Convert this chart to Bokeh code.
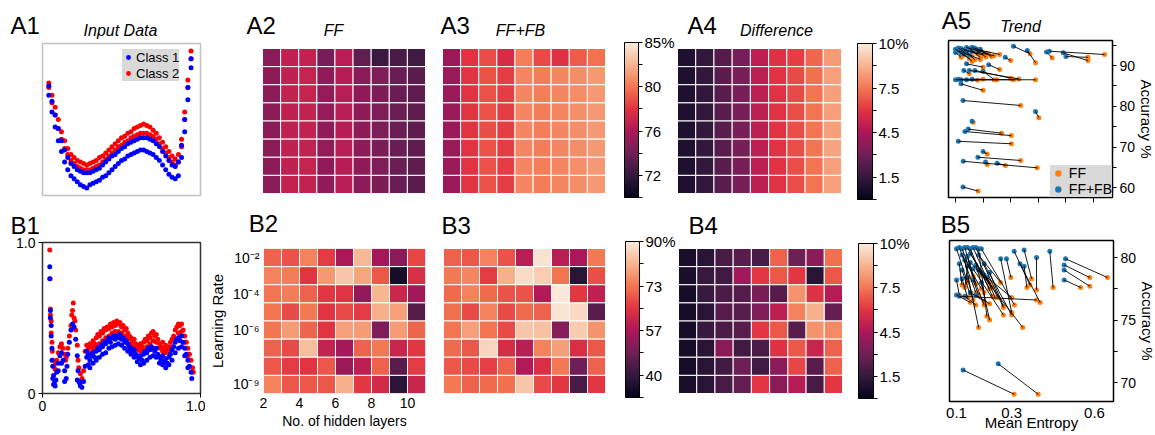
import numpy as np
from bokeh.plotting import figure
from bokeh.layouts import row, column
from bokeh.models import (ColumnDataSource, LinearColorMapper, ColorBar, FixedTicker, LinearAxis,
                          Range1d, Legend, LegendItem, Label, BoxAnnotation)
from bokeh.transform import dodge
from bokeh.embed import file_html
from bokeh.resources import INLINE

FONT = "Liberation Sans"

# ---------------- data ----------------
hidden_layers = [2, 3, 4, 5, 6, 7, 8, 9, 10]
lr_exponents = [-2, -3, -4, -5, -6, -7, -8, -9]
lr_tick_exponents = [-2, -4, -6, -9]
lr_tick_labels = ["10\u207b\u00b2", "10\u207b\u2074", "10\u207b\u2076", "10\u207b\u2079"]

ff_a = [
    [75.1, 77.2, 77.3, 74.5, 76.9, 73.7, 72.4, 72.9, 72.6],
    [75.3, 77.2, 77.4, 75.4, 76.8, 75.2, 74.8, 74.0, 73.5],
    [75.3, 77.3, 77.4, 75.5, 76.9, 75.3, 74.7, 74.0, 73.6],
    [75.3, 77.2, 77.3, 75.5, 76.9, 75.3, 74.8, 74.1, 73.6],
    [75.2, 77.2, 77.3, 75.4, 76.8, 75.3, 74.8, 74.1, 73.6],
    [75.3, 77.2, 77.3, 75.5, 76.9, 75.3, 74.7, 74.0, 73.6],
    [75.3, 77.2, 77.4, 75.4, 76.8, 75.3, 74.8, 74.1, 73.6],
    [75.2, 77.3, 77.3, 75.4, 76.9, 75.2, 74.7, 74.0, 73.5],
]
fffb_a = [
    [75.8, 78.5, 79.4, 78.1, 81.0, 79.3, 78.4, 79.9, 80.6],
    [75.8, 78.6, 79.5, 78.9, 81.2, 80.9, 81.3, 81.5, 81.9],
    [75.8, 78.6, 79.5, 78.9, 81.2, 81.0, 81.3, 81.5, 81.9],
    [75.8, 78.6, 79.5, 78.9, 81.2, 80.9, 81.3, 81.6, 81.9],
    [75.8, 78.6, 79.4, 78.9, 81.2, 81.0, 81.3, 81.5, 81.9],
    [75.8, 78.6, 79.5, 78.9, 81.2, 80.9, 81.3, 81.5, 81.9],
    [75.8, 78.6, 79.5, 78.9, 81.2, 81.0, 81.3, 81.6, 81.9],
    [75.8, 78.6, 79.5, 78.9, 81.2, 80.9, 81.3, 81.5, 81.9],
]
diff_a = [
    [0.8, 1.4, 2.2, 3.0, 4.7, 5.6, 5.9, 6.8, 8.0],
    [0.8, 1.4, 2.3, 3.1, 4.7, 5.7, 6.2, 7.0, 8.1],
    [0.8, 1.4, 2.3, 3.1, 4.7, 5.7, 6.2, 7.1, 8.1],
    [0.8, 1.4, 2.3, 3.1, 4.7, 5.7, 6.3, 7.1, 8.1],
    [0.8, 1.4, 2.3, 3.1, 4.7, 5.7, 6.3, 7.1, 8.1],
    [0.8, 1.4, 2.3, 3.1, 4.7, 5.7, 6.3, 7.1, 8.2],
    [0.8, 1.4, 2.3, 3.1, 4.7, 5.7, 6.3, 7.1, 8.1],
    [0.8, 1.4, 2.3, 3.1, 4.7, 5.7, 6.3, 7.1, 8.1],
]
ff_b = [
    [70.9, 69.1, 74.9, 66.2, 56.4, 82.5, 55.8, 52.3, 67.4],
    [74.9, 74.3, 65.1, 77.8, 84.2, 79.6, 69.7, 35.5, 63.9],
    [73.2, 74.3, 70.9, 65.6, 65.1, 53.5, 81.9, 61.6, 55.2],
    [73.2, 68.0, 73.8, 65.1, 68.0, 66.2, 81.3, 79.0, 44.8],
    [73.2, 78.4, 71.4, 65.1, 79.0, 78.4, 50.6, 78.4, 71.4],
    [70.9, 68.0, 83.0, 60.4, 55.8, 70.9, 73.8, 61.0, 65.6],
    [69.7, 66.2, 65.1, 69.7, 54.6, 59.3, 70.9, 45.3, 66.2],
    [74.9, 69.7, 69.7, 69.7, 81.3, 65.6, 62.7, 39.0, 61.0],
]
fffb_b = [
    [70.9, 69.7, 74.9, 69.1, 58.7, 88.8, 58.7, 56.4, 73.8],
    [73.8, 75.5, 66.2, 81.3, 87.7, 85.4, 73.2, 38.4, 68.5],
    [72.0, 74.9, 72.0, 69.1, 69.1, 57.5, 89.4, 65.6, 59.8],
    [72.6, 68.0, 74.9, 68.0, 72.0, 70.9, 88.8, 87.1, 45.3],
    [73.2, 79.0, 73.2, 68.0, 84.2, 83.6, 51.7, 84.8, 77.2],
    [72.0, 69.7, 86.5, 63.3, 58.7, 74.9, 79.0, 63.9, 69.7],
    [69.7, 68.0, 66.8, 70.9, 57.5, 63.9, 73.8, 48.2, 70.9],
    [73.8, 70.9, 72.0, 72.6, 84.2, 68.0, 65.6, 43.0, 65.6],
]
diff_b = [
    [0.7, 1.1, 1.9, 2.3, 1.9, 6.7, 2.8, 3.5, 7.0],
    [0.7, 1.5, 1.7, 4.0, 5.8, 6.5, 5.8, 1.1, 6.5],
    [0.6, 1.5, 2.0, 2.2, 3.1, 2.2, 7.8, 5.6, 4.5],
    [0.6, 1.1, 2.2, 2.3, 3.2, 4.7, 7.4, 8.5, 2.6],
    [0.6, 1.5, 2.0, 2.3, 5.8, 6.5, 2.3, 7.8, 7.6],
    [0.6, 1.1, 3.5, 1.7, 2.0, 5.6, 6.5, 5.0, 6.7],
    [0.6, 1.1, 1.7, 2.8, 1.7, 3.5, 6.1, 2.3, 6.7],
    [0.7, 1.1, 1.9, 2.6, 5.8, 3.5, 4.5, 1.9, 5.8],
]

acc_a_ticks = [72.14, 76.43, 80.71, 85.0]
acc_a_minor = [70.0, 74.29, 78.57, 82.86]
acc_a_labels = ["72", "76", "80", "85%"]
acc_b_ticks = [40.29, 56.86, 73.43, 90.0]
acc_b_minor = [32.0, 48.57, 65.14, 81.71]
acc_b_labels = ["40", "57", "73", "90%"]
diff_ticks = [1.43, 4.29, 7.14, 10.0]
diff_minor = [0.0, 2.86, 5.71, 8.57]
diff_labels = ["1.5", "4.5", "7.5", "10%"]

a1_x = [0.04, 0.06, 0.08, 0.10, 0.12, 0.14, 0.16, 0.18, 0.20, 0.22, 0.24, 0.26, 0.28, 0.30, 0.32,
        0.34, 0.36, 0.38, 0.40, 0.42, 0.44, 0.46, 0.48, 0.50, 0.52, 0.54, 0.56, 0.58, 0.60, 0.62,
        0.64, 0.66, 0.68, 0.70, 0.72, 0.74, 0.76, 0.78, 0.80, 0.82, 0.84, 0.86, 0.88, 0.90, 0.92, 0.94]
a1_blue_lo = [0.66, 0.55, 0.45, 0.36, 0.29, 0.22, 0.17, 0.13, 0.11, 0.09, 0.07, 0.06, 0.05, 0.07, 0.08,
              0.09, 0.10, 0.12, 0.13, 0.15, 0.17, 0.19, 0.21, 0.23, 0.24, 0.26, 0.27, 0.28, 0.29, 0.30,
              0.30, 0.29, 0.28, 0.27, 0.25, 0.23, 0.20, 0.17, 0.14, 0.12, 0.11, 0.13, 0.25, 0.42, 0.63, 0.84]
a1_blue_hi = [0.72, 0.62, 0.53, 0.44, 0.36, 0.30, 0.25, 0.21, 0.19, 0.17, 0.16, 0.15, 0.15, 0.15, 0.16,
              0.17, 0.18, 0.20, 0.22, 0.24, 0.26, 0.27, 0.29, 0.31, 0.32, 0.34, 0.35, 0.36, 0.37, 0.38,
              0.38, 0.38, 0.37, 0.36, 0.34, 0.32, 0.29, 0.26, 0.23, 0.20, 0.19, 0.22, 0.33, 0.50, 0.71, 0.90]
a1_red_lo = [0.71, 0.61, 0.53, 0.44, 0.37, 0.31, 0.27, 0.23, 0.21, 0.19, 0.18, 0.17, 0.17, 0.17, 0.18,
             0.19, 0.20, 0.22, 0.24, 0.26, 0.28, 0.30, 0.32, 0.33, 0.35, 0.36, 0.38, 0.39, 0.40, 0.41,
             0.41, 0.41, 0.40, 0.39, 0.37, 0.34, 0.31, 0.28, 0.25, 0.22, 0.20, 0.22, 0.32, 0.50, 0.71, 0.90]
a1_red_hi = [0.74, 0.66, 0.58, 0.50, 0.42, 0.36, 0.31, 0.27, 0.25, 0.23, 0.22, 0.21, 0.20, 0.21, 0.22,
             0.23, 0.25, 0.26, 0.28, 0.30, 0.32, 0.34, 0.36, 0.38, 0.39, 0.41, 0.42, 0.44, 0.45, 0.46,
             0.47, 0.46, 0.45, 0.43, 0.41, 0.38, 0.35, 0.32, 0.29, 0.26, 0.24, 0.27, 0.37, 0.55, 0.76, 0.95]

b1_blue = [(0.046, 0.84), (0.046, 0.76), (0.05, 0.55), (0.05, 0.50), (0.055, 0.45), (0.055, 0.38), (0.06, 0.30),
           (0.06, 0.22), (0.065, 0.18), (0.07, 0.12), (0.075, 0.07), (0.08, 0.05), (0.085, 0.09), (0.09, 0.14),
           (0.10, 0.20), (0.11, 0.25), (0.12, 0.27), (0.13, 0.22), (0.14, 0.15), (0.15, 0.10), (0.155, 0.18),
           (0.16, 0.26), (0.17, 0.34), (0.18, 0.42), (0.19, 0.46), (0.20, 0.44), (0.21, 0.36), (0.22, 0.25),
           (0.225, 0.15), (0.23, 0.08), (0.24, 0.05), (0.25, 0.04), (0.26, 0.08), (0.27, 0.18), (0.28, 0.24),
           (0.29, 0.26), (0.30, 0.22), (0.31, 0.25), (0.32, 0.27), (0.33, 0.24), (0.34, 0.28), (0.35, 0.30),
           (0.36, 0.29), (0.37, 0.32), (0.38, 0.31), (0.39, 0.34), (0.40, 0.33), (0.41, 0.35), (0.42, 0.37),
           (0.43, 0.34), (0.44, 0.37), (0.45, 0.38), (0.46, 0.36), (0.47, 0.38), (0.48, 0.37), (0.49, 0.39),
           (0.50, 0.36), (0.51, 0.37), (0.52, 0.34), (0.53, 0.35), (0.54, 0.33), (0.55, 0.31), (0.56, 0.30),
           (0.57, 0.28), (0.58, 0.29), (0.59, 0.26), (0.60, 0.25), (0.61, 0.23), (0.62, 0.25), (0.63, 0.22),
           (0.64, 0.26), (0.65, 0.28), (0.66, 0.27), (0.67, 0.30), (0.68, 0.29), (0.69, 0.31), (0.70, 0.30),
           (0.71, 0.28), (0.72, 0.30), (0.73, 0.26), (0.74, 0.24), (0.75, 0.22), (0.76, 0.25), (0.77, 0.21),
           (0.78, 0.23), (0.79, 0.20), (0.80, 0.24), (0.81, 0.26), (0.82, 0.29), (0.83, 0.31), (0.84, 0.34),
           (0.85, 0.36), (0.86, 0.37), (0.87, 0.35), (0.88, 0.38), (0.89, 0.34), (0.90, 0.30), (0.91, 0.26),
           (0.92, 0.22), (0.93, 0.18), (0.94, 0.14), (0.945, 0.10),
           (0.30, 0.17), (0.32, 0.20), (0.34, 0.22), (0.36, 0.24), (0.38, 0.26), (0.40, 0.27), (0.42, 0.30),
           (0.44, 0.31), (0.46, 0.32), (0.48, 0.33), (0.50, 0.32), (0.52, 0.30), (0.54, 0.28), (0.56, 0.26),
           (0.58, 0.24), (0.60, 0.21), (0.62, 0.19), (0.64, 0.20), (0.66, 0.22), (0.68, 0.24), (0.70, 0.25),
           (0.72, 0.24), (0.74, 0.20), (0.76, 0.19), (0.78, 0.17), (0.80, 0.19), (0.82, 0.22), (0.84, 0.27),
           (0.86, 0.30), (0.88, 0.31), (0.90, 0.25), (0.92, 0.17), (0.10, 0.15), (0.12, 0.20), (0.14, 0.08),
           (0.065, 0.10), (0.07, 0.06), (0.22, 0.09), (0.235, 0.07), (0.28, 0.28), (0.29, 0.19)]
b1_red = [(0.046, 0.95), (0.048, 0.76), (0.05, 0.56), (0.05, 0.52), (0.055, 0.48), (0.055, 0.40), (0.06, 0.34),
          (0.062, 0.28), (0.065, 0.22), (0.07, 0.18), (0.08, 0.16), (0.085, 0.20), (0.09, 0.22), (0.10, 0.27),
          (0.11, 0.31), (0.12, 0.33), (0.13, 0.30), (0.14, 0.26), (0.145, 0.22), (0.15, 0.24), (0.16, 0.30),
          (0.17, 0.38), (0.18, 0.45), (0.185, 0.52), (0.19, 0.55), (0.195, 0.60), (0.20, 0.50), (0.205, 0.48),
          (0.21, 0.42), (0.22, 0.32), (0.225, 0.22), (0.23, 0.17), (0.24, 0.13), (0.25, 0.10), (0.26, 0.15),
          (0.27, 0.28), (0.28, 0.32), (0.29, 0.30), (0.30, 0.33), (0.31, 0.31), (0.32, 0.35), (0.33, 0.33),
          (0.34, 0.37), (0.35, 0.39), (0.36, 0.38), (0.37, 0.41), (0.38, 0.40), (0.39, 0.43), (0.40, 0.42),
          (0.41, 0.44), (0.42, 0.43), (0.43, 0.46), (0.44, 0.44), (0.45, 0.47), (0.46, 0.45), (0.47, 0.48),
          (0.48, 0.46), (0.49, 0.47), (0.50, 0.44), (0.51, 0.45), (0.52, 0.42), (0.53, 0.43), (0.54, 0.40),
          (0.55, 0.38), (0.56, 0.37), (0.57, 0.35), (0.58, 0.36), (0.59, 0.33), (0.60, 0.32), (0.61, 0.30),
          (0.62, 0.33), (0.63, 0.31), (0.64, 0.34), (0.65, 0.36), (0.66, 0.35), (0.67, 0.38), (0.68, 0.37),
          (0.69, 0.40), (0.70, 0.41), (0.71, 0.38), (0.72, 0.39), (0.73, 0.36), (0.74, 0.33), (0.75, 0.31),
          (0.76, 0.34), (0.77, 0.30), (0.78, 0.32), (0.79, 0.29), (0.80, 0.31), (0.81, 0.34), (0.82, 0.36),
          (0.83, 0.38), (0.84, 0.42), (0.85, 0.44), (0.86, 0.46), (0.87, 0.45), (0.88, 0.46), (0.89, 0.42),
          (0.90, 0.38), (0.91, 0.34), (0.92, 0.30), (0.93, 0.26), (0.94, 0.22), (0.95, 0.17), (0.955, 0.14),
          (0.30, 0.27), (0.32, 0.29), (0.34, 0.31), (0.36, 0.33), (0.38, 0.35), (0.40, 0.37), (0.42, 0.38),
          (0.44, 0.40), (0.46, 0.41), (0.48, 0.41), (0.50, 0.40), (0.52, 0.38), (0.54, 0.36), (0.56, 0.33),
          (0.58, 0.31), (0.60, 0.29), (0.62, 0.28), (0.64, 0.29), (0.66, 0.31), (0.68, 0.33), (0.70, 0.35),
          (0.72, 0.34), (0.74, 0.30), (0.76, 0.28), (0.78, 0.27), (0.80, 0.27), (0.82, 0.31), (0.84, 0.36),
          (0.86, 0.40), (0.88, 0.41), (0.90, 0.34), (0.92, 0.25)]

# trend pairs: (FF+FB entropy, FF+FB acc, FF entropy, FF acc)
a5_pairs = [
    (0.10, 94.0, 0.13, 92.5), (0.11, 93.6, 0.16, 92.3), (0.12, 94.2, 0.18, 92.8), (0.13, 93.8, 0.20, 92.6),
    (0.14, 94.4, 0.22, 92.9), (0.15, 94.1, 0.19, 92.0), (0.16, 93.5, 0.24, 92.4), (0.17, 94.3, 0.21, 93.0),
    (0.18, 93.9, 0.26, 92.7), (0.10, 93.2, 0.12, 92.0), (0.12, 93.0, 0.15, 91.7), (0.14, 93.3, 0.17, 91.4),
    (0.19, 94.0, 0.23, 92.2), (0.11, 94.3, 0.14, 92.9), (0.13, 92.8, 0.16, 91.0), (0.15, 92.6, 0.19, 91.5),
    (0.16, 94.5, 0.21, 92.1), (0.31, 94.7, 0.37, 92.9), (0.36, 93.7, 0.39, 90.7), (0.44, 93.5, 0.64, 92.7),
    (0.49, 93.1, 0.58, 91.2), (0.50, 92.2, 0.58, 92.0), (0.28, 92.0, 0.30, 91.2), (0.43, 93.3, 0.45, 91.9),
    (0.14, 90.4, 0.20, 89.6), (0.22, 90.2, 0.26, 89.0), (0.13, 88.8, 0.15, 88.0), (0.15, 88.8, 0.33, 86.7),
    (0.17, 88.8, 0.30, 86.9), (0.20, 88.6, 0.24, 86.5), (0.10, 86.5, 0.39, 86.5), (0.12, 86.5, 0.18, 86.4),
    (0.14, 86.5, 0.25, 86.5), (0.16, 86.6, 0.31, 86.5), (0.11, 86.6, 0.20, 86.6), (0.12, 85.5, 0.20, 83.9),
    (0.127, 81.4, 0.336, 80.2), (0.39, 78.7, 0.402, 77.2), (0.16, 76.3, 0.164, 76.1), (0.146, 74.4, 0.267, 73.4),
    (0.134, 73.8, 0.302, 72.8), (0.110, 71.4, 0.303, 70.8), (0.200, 68.9, 0.215, 68.3), (0.181, 67.5, 0.336, 66.7),
    (0.128, 66.5, 0.396, 64.9), (0.209, 66.3, 0.215, 65.7), (0.251, 66.0, 0.281, 65.5), (0.127, 60.2, 0.182, 59.2),
]
b5_pairs = [
    (0.10, 80.7, 0.14, 78.0), (0.11, 80.8, 0.17, 77.2), (0.12, 80.7, 0.20, 76.2), (0.13, 80.8, 0.16, 78.5),
    (0.14, 80.8, 0.22, 77.5), (0.15, 80.7, 0.19, 78.6), (0.16, 80.8, 0.24, 76.8), (0.17, 80.8, 0.27, 76.0),
    (0.18, 80.7, 0.21, 75.3), (0.19, 80.7, 0.31, 76.2), (0.11, 79.5, 0.12, 77.8), (0.12, 79.0, 0.15, 77.0),
    (0.13, 79.8, 0.18, 74.4), (0.14, 79.3, 0.13, 77.6), (0.15, 79.6, 0.22, 78.0), (0.16, 79.1, 0.27, 75.4),
    (0.17, 79.4, 0.20, 77.2), (0.18, 79.0, 0.34, 74.4), (0.19, 78.8, 0.23, 76.9), (0.20, 78.6, 0.30, 76.8),
    (0.10, 78.2, 0.11, 77.0), (0.12, 78.3, 0.14, 76.8), (0.14, 78.4, 0.16, 76.6), (0.16, 78.2, 0.18, 77.0),
    (0.11, 76.9, 0.39, 76.6), (0.10, 77.0, 0.15, 76.4), (0.13, 76.9, 0.17, 76.2), (0.19, 78.0, 0.22, 75.0),
    (0.15, 77.2, 0.20, 76.5), (0.17, 77.0, 0.22, 76.3), (0.21, 78.4, 0.25, 76.8), (0.18, 80.2, 0.26, 78.0),
    (0.15, 80.3, 0.23, 77.6), (0.12, 80.2, 0.19, 77.5), (0.20, 79.5, 0.30, 75.4), (0.14, 80.1, 0.17, 77.9),
    (0.281, 79.9, 0.297, 78.4), (0.309, 80.5, 0.366, 77.8), (0.345, 80.6, 0.372, 78.3), (0.345, 79.3, 0.355, 77.6),
    (0.39, 80.0, 0.39, 77.4), (0.438, 80.5, 0.45, 77.6), (0.495, 79.9, 0.647, 78.4), (0.49, 79.4, 0.583, 78.4),
    (0.49, 78.2, 0.55, 77.6), (0.49, 79.0, 0.583, 77.7), (0.124, 71.0, 0.309, 69.06), (0.251, 71.5, 0.396, 69.06),
    (0.26, 79.9, 0.30, 75.6), (0.22, 78.8, 0.27, 76.1), (0.33, 79.5, 0.403, 76.4),
]
trend_ticks_a = [0.1, 0.2, 0.3, 0.4, 0.5, 0.6]
trend_ticks_b = [0.1, 0.3, 0.6]

# ---------------- style ----------------
anchors = ["#03051a", "#35193e", "#701f57", "#ad1759", "#e13342", "#f37651", "#f6b48f", "#faebdd"]
_rgb = np.array([[int(a[i:i + 2], 16) for i in (1, 3, 5)] for a in anchors], float)
_pos = np.linspace(0, 1, len(anchors))
ROCKET = ["#%02x%02x%02x" % tuple(int(round(np.interp(t, _pos, _rgb[:, c]))) for c in range(3))
          for t in np.linspace(0, 1, 256)]
ORANGE = "#ff7f0e"
BLUE = "#1f77b4"

COLS = [0, 205, 432, 676, 930, 1155]
ROW_A = (0, 204)
ROW_B = (204, 435)
LABEL_SHIFT = 7   # measured offset of Label baselines in this renderer


def lin(d0, p0, d1, p1, p):
    return d0 + (p - p0) * (d1 - d0) / (p1 - p0)


def fig(x0, x1, y0, y1, fx0, fx1, fy0, fy1, xr, yr, xloc=None, yloc=None):
    p = figure(frame_width=fx1 - fx0, frame_height=fy1 - fy0,
               min_border_left=fx0 - x0, min_border_right=x1 - fx1,
               min_border_top=fy0 - y0, min_border_bottom=y1 - fy1,
               x_range=xr, y_range=yr, x_axis_location=xloc, y_axis_location=yloc,
               toolbar_location=None, output_backend="svg")
    p.frame_align = False
    p.xgrid.grid_line_color = None
    p.ygrid.grid_line_color = None
    p.outline_line_color = None
    p.background_fill_color = None
    return p


def style_axis(ax, size="14px"):
    ax.axis_line_color = None
    ax.major_tick_line_color = "black"
    ax.minor_tick_line_color = "black"
    ax.major_tick_in = 0
    ax.minor_tick_in = 0
    ax.minor_tick_out = 0
    ax.major_label_text_font = FONT
    ax.major_label_text_font_size = size
    ax.major_label_text_color = "black"
    ax.axis_label_text_font = FONT
    ax.axis_label_text_font_style = "normal"
    ax.axis_label_text_color = "black"


def text(p, fx0, fy1, x, baseline_y, s, size, style="normal", align="left"):
    p.add_layout(Label(x=x - fx0, y=fy1 - baseline_y + LABEL_SHIFT, x_units="screen", y_units="screen",
                       text=s, text_font=FONT, text_font_size=f"{size}px", text_font_style=style,
                       text_align=align, text_baseline="alphabetic", text_color="black"))


def top_text(p, at, s, size, style, standoff):
    """A text above the frame, drawn as the single tick label of an extra top axis."""
    ax = LinearAxis(ticker=FixedTicker(ticks=[at]), major_label_overrides={at: s})
    ax.axis_line_color = None
    ax.major_tick_line_color = None
    ax.minor_tick_line_color = None
    ax.major_tick_out = 0
    ax.minor_tick_out = 0
    ax.major_label_standoff = standoff
    ax.major_label_text_font = FONT
    ax.major_label_text_font_size = f"{size}px"
    ax.major_label_text_font_style = style
    ax.major_label_text_color = "black"
    p.add_layout(ax, "above")


def heat_source(values):
    xs, ys, vs = [], [], []
    for r, e in enumerate(lr_exponents):
        for c, hl in enumerate(hidden_layers):
            xs.append(hl)
            ys.append(e)
            vs.append(values[r][c])
    return ColumnDataSource(dict(layer=xs, lr=ys, v=vs))


def draw_cells(p, values, mapper):
    p.rect(x=dodge("layer", 0.5), y="lr", width=1, height=1, source=heat_source(values),
           fill_color={"field": "v", "transform": mapper}, line_color="white", line_width=1)


def heat_fig(col, rowspan, cells, values, mapper):
    x0, x1 = COLS[col], COLS[col + 1]
    y0, y1 = rowspan
    cl, cr, ct, cb = cells
    xr = Range1d(lin(2, cl, 11, cr, x0), lin(2, cl, 11, cr, x1))
    yr = Range1d(lin(-1.5, ct, -9.5, cb, y1), lin(-1.5, ct, -9.5, cb, y0))
    p = fig(x0, x1, y0, y1, x0, x1, y0, y1, xr, yr)
    draw_cells(p, values, mapper)
    return p


def cbar(p, fx0, fy1, mapper, major, minor, labels, bar_left, bar_top, bar_bottom, w):
    pad = 10
    h = bar_bottom - bar_top
    cb = ColorBar(color_mapper=mapper, location=(bar_left - fx0 - pad, fy1 - bar_bottom - pad),
                  width=w, height=h, padding=pad, margin=0,
                  ticker=FixedTicker(ticks=major, minor_ticks=minor),
                  major_label_overrides=dict(zip(major, labels)),
                  bar_line_color="black", bar_line_width=1,
                  major_tick_line_color="black", major_tick_in=0, major_tick_out=4,
                  minor_tick_line_color="black", minor_tick_in=0, minor_tick_out=4,
                  label_standoff=2, major_label_text_font=FONT, major_label_text_font_size="15px",
                  major_label_text_color="black", background_fill_alpha=0, border_line_color=None)
    p.add_layout(cb)


XREF = (0.1, 955, 0.6, 1093)   # entropy value <-> page x


def trend_fig(rowspan, box_top, box_bottom, yref, pairs, major, minor):
    x0, x1 = COLS[4], COLS[5]
    y0, y1 = rowspan
    xa, xpa, xb, xpb = XREF
    ya, ypa, yb, ypb = yref
    xr = Range1d(lin(xa, xpa, xb, xpb, 948), lin(xa, xpa, xb, xpb, 1112))
    yr = Range1d(lin(ya, ypa, yb, ypb, box_bottom), lin(ya, ypa, yb, ypb, box_top))
    p = fig(x0, x1, y0, y1, 948, 1112, box_top, box_bottom, xr, yr, xloc="below", yloc="right")
    p.outline_line_color = "black"
    p.outline_line_width = 1.5
    bx = [q[0] for q in pairs]
    by = [q[1] for q in pairs]
    ox = [q[2] for q in pairs]
    oy = [q[3] for q in pairs]
    ro = p.scatter(ox, oy, size=5, color=ORANGE, line_color=None)
    rb = p.scatter(bx, by, size=5, color=BLUE, line_color=None)
    p.segment(x0=bx, y0=by, x1=ox, y1=oy, line_color="black", line_width=0.9)
    yax = p.yaxis[0]
    style_axis(yax, "14px")
    yax.ticker = FixedTicker(ticks=major, minor_ticks=minor)
    yax.major_tick_out = 4
    yax.minor_tick_out = 4
    yax.major_label_standoff = 3
    yax.axis_label = "Accuracy %"
    yax.axis_label_text_font_size = "15px"
    yax.axis_label_standoff = 0
    style_axis(p.xaxis[0], "15px")
    return p, ro, rb


def page_x_to_entropy(px):
    return lin(XREF[0], XREF[1], XREF[2], XREF[3], px)


map_acc_a = LinearColorMapper(palette=ROCKET, low=70, high=85)
map_acc_b = LinearColorMapper(palette=ROCKET, low=32, high=90)
map_diff = LinearColorMapper(palette=ROCKET, low=0, high=10)

# ======================= row A =======================
a1xr = Range1d(lin(0, 42, 1, 200, COLS[0]), lin(0, 42, 1, 200, COLS[1]))
a1yr = Range1d(lin(0, 195, 1, 43, ROW_A[1]), lin(0, 195, 1, 43, ROW_A[0]))
pA1 = fig(COLS[0], COLS[1], ROW_A[0], ROW_A[1], COLS[0], COLS[1], ROW_A[0], ROW_A[1], a1xr, a1yr)
pA1.add_layout(BoxAnnotation(left=0, right=1, bottom=0, top=1, fill_alpha=0,
                             line_color="#333333", line_width=1.5))
rrA = pA1.scatter(a1_x + a1_x, a1_red_lo + a1_red_hi, size=5, color="#ff0000", line_color=None)
rbA = pA1.scatter(a1_x + a1_x, a1_blue_lo + a1_blue_hi, size=5, color="#0000ff", line_color=None)
legA1 = Legend(items=[LegendItem(label="Class 1", renderers=[rbA]), LegendItem(label="Class 2", renderers=[rrA])],
               location=(122 - COLS[0], ROW_A[1] - 81), margin=0, padding=3, spacing=0, glyph_width=12,
               glyph_height=16, label_height=16, label_standoff=2, label_text_font=FONT,
               label_text_font_size="13px", label_text_color="black", background_fill_color="#d9d9d9",
               background_fill_alpha=1.0, border_line_color=None)
pA1.add_layout(legA1)
text(pA1, COLS[0], ROW_A[1], 10, 32, "A1", 24)
text(pA1, COLS[0], ROW_A[1], 120, 37, "Input Data", 16, "italic", "center")

pA2 = heat_fig(1, ROW_A, (262, 425, 48, 193), ff_a, map_acc_a)
text(pA2, COLS[1], ROW_A[1], 246, 32, "A2", 24)
text(pA2, COLS[1], ROW_A[1], 333, 37, "FF", 16, "italic", "center")

pA3 = heat_fig(2, ROW_A, (442, 605, 48, 193), fffb_a, map_acc_a)
cbar(pA3, COLS[2], ROW_A[1], map_acc_a, acc_a_ticks, acc_a_minor, acc_a_labels, 624, 42, 197, 14)
text(pA3, COLS[2], ROW_A[1], 440, 32, "A3", 24)
text(pA3, COLS[2], ROW_A[1], 520, 37, "FF+FB", 16, "italic", "center")

pA4 = heat_fig(3, ROW_A, (677, 841, 48, 193), diff_a, map_diff)
cbar(pA4, COLS[3], ROW_A[1], map_diff, diff_ticks, diff_minor, diff_labels, 857, 43, 199, 15)
text(pA4, COLS[3], ROW_A[1], 687, 32, "A4", 24)
text(pA4, COLS[3], ROW_A[1], 776, 37, "Difference", 16, "italic", "center")

pA5, roA, rbA5 = trend_fig(ROW_A, 40, 197, (90, 65, 60, 187.3), a5_pairs, [60, 70, 80, 90], [65, 75, 85, 95])
xa5 = pA5.xaxis[0]
xa5.ticker = FixedTicker(ticks=[], minor_ticks=trend_ticks_a)
xa5.minor_tick_out = 5
xa5.major_tick_out = 0
xa5.major_label_standoff = 0
legA5 = Legend(items=[LegendItem(label="FF", renderers=[roA]), LegendItem(label="FF+FB", renderers=[rbA5])],
               location="bottom_right", margin=0, padding=3, spacing=0, glyph_width=16, glyph_height=16,
               label_height=16, label_standoff=3, label_text_font=FONT, label_text_font_size="14px",
               label_text_color="black", background_fill_color="#d9d9d9", background_fill_alpha=1.0,
               border_line_color=None)
pA5.add_layout(legA5)
top_text(pA5, page_x_to_entropy(1020), "Trend", 16, "italic", 6)
top_text(pA5, page_x_to_entropy(956), "A5", 24, "normal", -19)

# ======================= row B =======================
pB1 = fig(COLS[0], COLS[1], ROW_B[0], ROW_B[1], 42, 200, 242, 393, Range1d(0, 1), Range1d(0, 1),
          xloc="below", yloc="left")
pB1.outline_line_color = "#333333"
pB1.outline_line_width = 1.5
pB1.scatter([q[0] for q in b1_red], [q[1] for q in b1_red], size=5, color="#ff0000", line_color=None)
pB1.scatter([q[0] for q in b1_blue], [q[1] for q in b1_blue], size=5, color="#0000ff", line_color=None)
for ax in (pB1.xaxis[0], pB1.yaxis[0]):
    style_axis(ax, "14px")
    ax.ticker = FixedTicker(ticks=[0, 1])
    ax.major_label_overrides = {0: "0", 1: "1.0"}
    ax.major_tick_out = 4
    ax.major_label_standoff = 3
pB1.title.text = "B1"
pB1.title.align = "left"
pB1.title.offset = 10 - 42
pB1.title.standoff = 8
pB1.title.text_font = FONT
pB1.title.text_font_size = "24px"
pB1.title.text_font_style = "normal"
pB1.title.text_color = "black"

pB2 = fig(COLS[1], COLS[2], ROW_B[0], ROW_B[1], 262, 424, 248, 393, Range1d(2, 11), Range1d(-9.5, -1.5),
          xloc="below", yloc="left")
draw_cells(pB2, ff_b, map_acc_b)
for ax in (pB2.xaxis[0], pB2.yaxis[0]):
    style_axis(ax, "14px")
    ax.major_tick_line_color = None
    ax.minor_tick_line_color = None
    ax.major_tick_out = 0
    ax.minor_tick_out = 0
    ax.major_label_standoff = 4
pB2.xaxis.ticker = FixedTicker(ticks=[2, 4, 6, 8, 10])
pB2.yaxis.ticker = FixedTicker(ticks=lr_tick_exponents)
pB2.yaxis.major_label_overrides = dict(zip(lr_tick_exponents, lr_tick_labels))
pB2.xaxis.axis_label = "No. of hidden layers"
pB2.xaxis.axis_label_text_font_size = "14px"
pB2.xaxis.axis_label_standoff = 2
pB2.yaxis.axis_label = "Learning Rate"
pB2.yaxis.axis_label_text_font_size = "15px"
pB2.yaxis.axis_label_standoff = 4
top_text(pB2, 2, "B2", 24, "normal", 12)

pB3 = heat_fig(2, ROW_B, (442, 604, 248, 393), fffb_b, map_acc_b)
cbar(pB3, COLS[2], ROW_B[1], map_acc_b, acc_b_ticks, acc_b_minor, acc_b_labels, 624, 241, 397, 14)
text(pB3, COLS[2], ROW_B[1], 440, 232, "B3", 24)

pB4 = heat_fig(3, ROW_B, (677, 841, 248, 393), diff_b, map_diff)
cbar(pB4, COLS[3], ROW_B[1], map_diff, diff_ticks, diff_minor, diff_labels, 857, 243, 398, 15)
text(pB4, COLS[3], ROW_B[1], 687, 232, "B4", 24)

pB5, _, _ = trend_fig(ROW_B, 240, 401, (80, 257, 70, 382), b5_pairs, [70, 75, 80], [72.5, 77.5])
xb5 = pB5.xaxis[0]
xb5.ticker = FixedTicker(ticks=trend_ticks_b)
xb5.major_label_overrides = {0.1: "0.1", 0.3: "0.3", 0.6: "0.6"}
xb5.major_tick_line_color = None
xb5.major_tick_out = 0
xb5.major_label_standoff = 6
xb5.axis_label = "Mean Entropy"
xb5.axis_label_text_font_size = "15px"
xb5.axis_label_standoff = -7
top_text(pB5, page_x_to_entropy(954), "B5", 24, "normal", 3)

layout = column(row(pA1, pA2, pA3, pA4, pA5, spacing=0),
                row(pB1, pB2, pB3, pB4, pB5, spacing=0), spacing=0)

open("out.html", "w").write(file_html(layout, INLINE))
